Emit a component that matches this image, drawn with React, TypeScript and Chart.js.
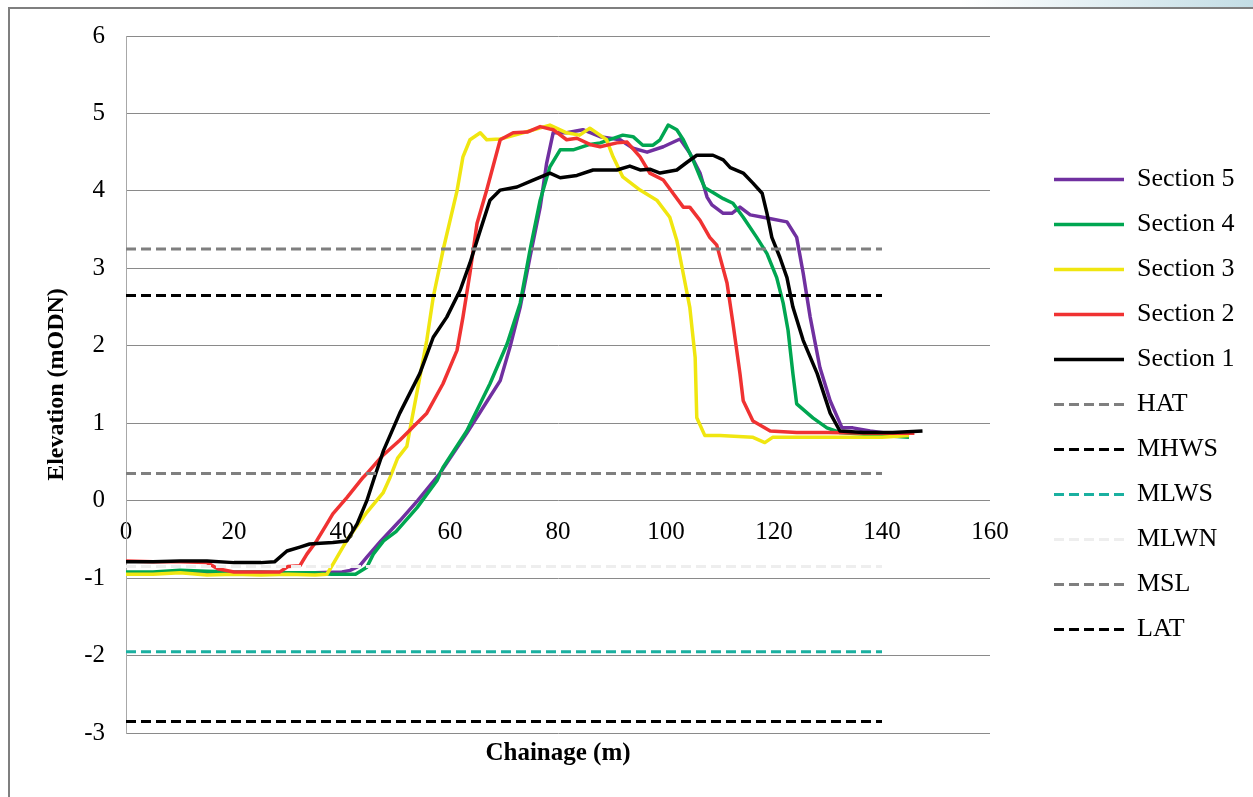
import React, { useEffect, useRef } from "react";
import { Chart, registerables } from "chart.js";

Chart.register(...registerables);

// ---------- DATA ----------
const xTickMin = 0;
const xTickMax = 160;
const xTickStep = 20;
const yTickMin = -3;
const yTickMax = 6;
const yTickStep = 1;

const xTitle = "Chainage (m)";
const yTitle = "Elevation (mODN)";

// Section 5 (purple)
const s5X = [0, 5, 10, 15, 20, 25, 30, 35, 40, 41.5, 43.3, 44.6, 47.2, 50.7, 54, 58.1, 63.1, 66.1, 69.3, 71.1, 73, 74.8, 76.7, 77.9, 79.1, 81.6, 84.6, 87.8, 91.5, 93.9, 96.5, 99.5, 102.6, 104.4, 106.3, 107.6, 108.5, 110.6, 112.2, 113.7, 115.6, 118.7, 122.4, 124.2, 125.4, 126.7, 128.5, 130.4, 132.6, 134.6, 137.8, 143];
const s5Y = [-0.93, -0.93, -0.92, -0.93, -0.95, -0.94, -0.93, -0.93, -0.92, -0.9, -0.84, -0.73, -0.52, -0.26, 0.0, 0.35, 0.87, 1.2, 1.55, 1.98, 2.5, 3.14, 3.79, 4.36, 4.75, 4.75, 4.79, 4.7, 4.66, 4.55, 4.5, 4.57, 4.67, 4.49, 4.23, 3.92, 3.82, 3.71, 3.71, 3.79, 3.69, 3.65, 3.6, 3.4, 2.94, 2.37, 1.72, 1.29, 0.94, 0.94, 0.9, 0.85];

// Section 4 (green)
const s4X = [0, 5, 10, 15, 20, 25, 30, 35, 38, 42.5, 44.6, 45.8, 47.7, 50, 53.9, 57.6, 58.7, 63.1, 67.4, 70.6, 73, 74.8, 76.7, 78.5, 80.4, 82.8, 85.9, 87.8, 92, 93.9, 95.7, 97.6, 98.9, 100.4, 102, 103.2, 105, 106.3, 107.2, 108.7, 110.6, 112.4, 114.3, 116.8, 118.7, 120.5, 121.7, 122.6, 123.5, 124.2, 127.2, 129.8, 132.2, 138, 145];
const s4Y = [-0.92, -0.92, -0.9, -0.91, -0.92, -0.92, -0.93, -0.93, -0.95, -0.95, -0.86, -0.69, -0.52, -0.4, -0.09, 0.26, 0.43, 0.9, 1.51, 2.03, 2.55, 3.23, 3.88, 4.31, 4.53, 4.53, 4.6, 4.62, 4.72, 4.7, 4.59, 4.59, 4.66, 4.85, 4.79, 4.66, 4.4, 4.18, 4.04, 3.98, 3.9, 3.84, 3.66, 3.4, 3.19, 2.88, 2.55, 2.2, 1.64, 1.25, 1.07, 0.94, 0.88, 0.85, 0.82];

// Section 3 (yellow)
const s3X = [0, 5, 10, 15, 20, 25, 30, 35, 37.2, 38.5, 41, 44.6, 47.6, 48.9, 50.3, 52, 52.8, 55.7, 56.9, 58.7, 61.3, 62.4, 63.7, 65.6, 66.8, 69.3, 72, 75, 78.5, 81.6, 84, 85.9, 89, 90.2, 92, 95.2, 98.3, 100.7, 102, 103.2, 104.4, 105.4, 105.7, 107.2, 110, 116, 118.3, 119.8, 125, 132, 140, 145];
const s3Y = [-0.95, -0.95, -0.93, -0.96, -0.95, -0.96, -0.95, -0.96, -0.95, -0.8, -0.5, -0.15, 0.1, 0.3, 0.55, 0.7, 1.0, 2.07, 2.63, 3.23, 4.0, 4.44, 4.66, 4.75, 4.66, 4.67, 4.72, 4.78, 4.85, 4.75, 4.72, 4.81, 4.66, 4.44, 4.18, 4.01, 3.88, 3.66, 3.36, 2.93, 2.5, 1.85, 1.07, 0.84, 0.84, 0.82, 0.75, 0.82, 0.82, 0.82, 0.82, 0.84];

// Section 2 (red)
const s2X = [0, 5, 10, 15, 17, 20, 25, 28.5, 30, 32.2, 33.5, 35.3, 37.2, 38.3, 40.9, 43.9, 44.6, 47.5, 50.7, 55.7, 58.7, 61.3, 62.4, 63.7, 65, 66.8, 69.3, 71.7, 74.3, 76.7, 79.1, 81.6, 83.5, 85.9, 87.8, 90.9, 92.8, 95.2, 97, 99.5, 101.3, 103.2, 104.4, 106.3, 108.1, 109.4, 111.3, 112.4, 113.7, 114.3, 116.1, 119.3, 124.2, 130, 138, 146];
const s2Y = [-0.78, -0.79, -0.79, -0.8, -0.88, -0.92, -0.92, -0.92, -0.85, -0.84, -0.69, -0.52, -0.3, -0.17, 0.04, 0.3, 0.35, 0.58, 0.78, 1.13, 1.51, 1.94, 2.37, 2.94, 3.58, 4.01, 4.66, 4.75, 4.76, 4.83, 4.79, 4.66, 4.68, 4.6, 4.57, 4.62, 4.63, 4.44, 4.23, 4.14, 3.97, 3.79, 3.79, 3.62, 3.4, 3.3, 2.81, 2.29, 1.64, 1.29, 1.03, 0.9, 0.88, 0.88, 0.87, 0.87];

// Section 1 (black)
const s1X = [0, 5, 10, 15, 20, 25, 27.5, 29.8, 32.2, 34, 36, 38.3, 40.9, 42.8, 44.6, 46, 47.7, 50.7, 54.4, 56.9, 59.4, 61.9, 63.7, 65.6, 67.4, 69.3, 72.4, 75.4, 78.5, 80.4, 83.5, 86.5, 90.9, 93.3, 95.2, 97, 98.9, 102, 103.9, 105.7, 108.7, 110.6, 111.9, 114.3, 116.1, 117.8, 118.7, 119.6, 121.1, 122.4, 123.5, 125.4, 128, 130.4, 132.2, 136.5, 142, 147.5];
const s1Y = [-0.79, -0.79, -0.78, -0.78, -0.8, -0.8, -0.79, -0.65, -0.6, -0.56, -0.55, -0.54, -0.52, -0.3, 0.0, 0.3, 0.65, 1.13, 1.64, 2.11, 2.37, 2.72, 3.07, 3.49, 3.88, 4.01, 4.05, 4.14, 4.23, 4.17, 4.2, 4.27, 4.27, 4.32, 4.27, 4.28, 4.23, 4.27, 4.37, 4.46, 4.46, 4.4, 4.3, 4.23, 4.1, 3.97, 3.71, 3.4, 3.14, 2.88, 2.5, 2.07, 1.64, 1.13, 0.9, 0.88, 0.88, 0.9];

const sectionNames = ["Section 5", "Section 4", "Section 3", "Section 2", "Section 1"];
const sectionXs = [s5X, s4X, s3X, s2X, s1X];
const sectionYs = [s5Y, s4Y, s3Y, s2Y, s1Y];

// Tidal reference levels
const refNames = ["HAT", "MHWS", "MLWS", "MLWN", "MSL", "LAT"];
const refValues = [3.25, 2.65, -1.95, -0.85, 0.35, -2.85];
const refStart = 0;
const refEnd = 140;

// ---------- STYLES ----------
const sectionColors = ["#7030a0", "#00a651", "#f0e610", "#f03232", "#000000"];
const refColors = ["#7f7f7f", "#000000", "#1ab0a0", "#eeeeee", "#7f7f7f", "#000000"];
const FONT = '"Liberation Serif", "Times New Roman", serif';

export default function App() {
  const canvasRef = useRef<HTMLCanvasElement | null>(null);

  useEffect(() => {
    if (!canvasRef.current) return;
    Chart.defaults.font.family = FONT;
    Chart.defaults.color = "#000";

    const total = sectionNames.length + refNames.length;
    const datasets: any[] = [];
    sectionNames.forEach((name, i) => {
      datasets.push({
        label: name,
        data: sectionXs[i].map((x, j) => ({ x, y: sectionYs[i][j] })),
        borderColor: sectionColors[i],
        backgroundColor: sectionColors[i],
        borderWidth: 3.5,
        pointRadius: 0,
        tension: 0,
        borderJoinStyle: "round",
        order: total - datasets.length,
      });
    });
    refNames.forEach((name, i) => {
      datasets.push({
        label: name,
        data: [
          { x: refStart, y: refValues[i] },
          { x: refEnd, y: refValues[i] },
        ],
        borderColor: refColors[i],
        backgroundColor: refColors[i],
        borderWidth: 3,
        borderDash: [10, 5],
        pointRadius: 0,
        order: total - datasets.length,
      });
    });

    const xTitlePlugin = {
      id: "xTitlePlugin",
      afterDraw(chart: any) {
        const { ctx, chartArea } = chart;
        ctx.save();
        ctx.font = `bold 25px ${FONT}`;
        ctx.fillStyle = "#000";
        ctx.textAlign = "center";
        ctx.textBaseline = "middle";
        ctx.fillText(xTitle, (chartArea.left + chartArea.right) / 2, 754);
        ctx.restore();
      },
    };

    const defaultGen = (Chart.defaults as any).plugins.legend.labels.generateLabels;

    const chart = new Chart(canvasRef.current, {
      type: "line",
      data: { datasets },
      plugins: [xTitlePlugin],
      options: {
        responsive: false,
        animation: false,
        layout: { padding: { left: 20, top: 36, right: 15, bottom: 64 } },
        plugins: {
          tooltip: { enabled: false },
          legend: {
            position: "right",
            title: { display: true, text: " ", font: { size: 10 }, padding: 14 },
            labels: {
              usePointStyle: true,
              pointStyle: "line",
              pointStyleWidth: 70,
              boxHeight: 10,
              padding: 19,
              color: "#000",
              font: { size: 26, family: FONT },
              sort: (a: any, b: any) => a.datasetIndex - b.datasetIndex,
              generateLabels: (c: any) => {
                const items = defaultGen(c);
                items.forEach((it: any) => {
                  const ds = c.data.datasets[it.datasetIndex];
                  it.lineDash = ds.borderDash || [];
                  it.lineWidth = ds.borderWidth;
                  it.strokeStyle = ds.borderColor;
                  it.fillStyle = ds.borderColor;
                  it.lineCap = "butt";
                });
                return items;
              },
            },
          },
        },
        scales: {
          x: {
            type: "linear",
            position: { y: 0 } as any,
            min: xTickMin,
            max: xTickMax,
            ticks: {
              stepSize: xTickStep,
              autoSkip: false,
              maxRotation: 0,
              padding: 17,
              color: "#000",
              font: { size: 25, family: FONT },
            },
            grid: { display: false, drawTicks: false },
            border: { display: false },
            afterFit: (scale: any) => {
              scale.height = 0;
            },
          },
          y: {
            type: "linear",
            position: "left",
            min: yTickMin,
            max: yTickMax,
            ticks: {
              stepSize: yTickStep,
              padding: 21,
              color: "#000",
              font: { size: 25, family: FONT },
            },
            grid: { color: "#8a8a8a", lineWidth: 1, drawTicks: false },
            border: { display: true, color: "#a8a8a8", width: 1 },
            title: {
              display: true,
              text: yTitle,
              color: "#000",
              font: { size: 24, weight: "bold", family: FONT },
              padding: { top: 22, bottom: 0 },
            },
            afterFit: (scale: any) => {
              scale.width = 106;
            },
          },
          yPad: {
            type: "linear",
            position: "right",
            display: true,
            ticks: { display: false },
            grid: { display: false, drawTicks: false },
            border: { display: false },
            afterFit: (scale: any) => {
              scale.width = 45;
            },
          },
        },
      } as any,
    });
    return () => chart.destroy();
  }, []);

  return (
    <div
      style={{
        position: "fixed",
        left: 0,
        top: 0,
        width: 1253,
        height: 797,
        overflow: "hidden",
        background: "#fff",
      }}
    >
      <div
        style={{
          position: "absolute",
          left: 960,
          top: 0,
          width: 293,
          height: 7,
          background: "linear-gradient(to right, #ffffff, #c3dde5)",
        }}
      />
      <div
        style={{
          position: "absolute",
          left: 8,
          top: 7,
          width: 1400,
          height: 1000,
          border: "2px solid #7f7f7f",
        }}
      />
      <canvas
        ref={canvasRef}
        width={1253}
        height={797}
        style={{ position: "absolute", left: 0, top: 0, display: "block" }}
      />
    </div>
  );
}
